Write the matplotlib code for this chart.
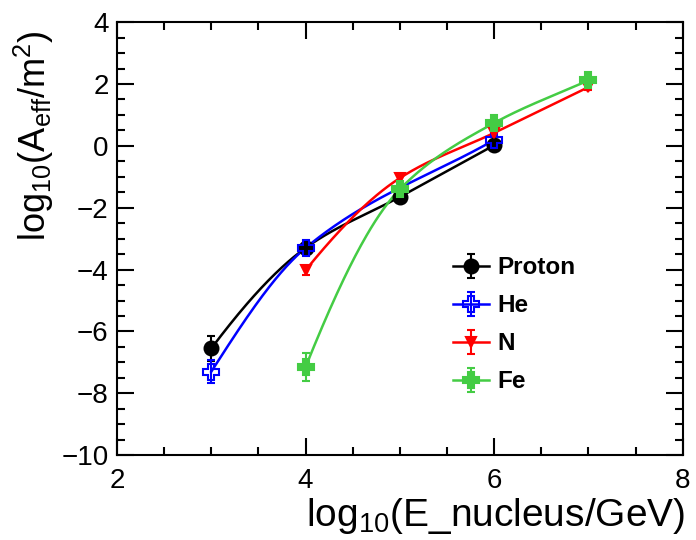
import numpy as np
import matplotlib.pyplot as plt
from matplotlib.ticker import MultipleLocator

plt.rcParams['font.family'] = ['Liberation Sans', 'DejaVu Sans']
plt.rcParams['mathtext.fontset'] = 'custom'
plt.rcParams['mathtext.rm'] = 'Liberation Sans'
plt.rcParams['mathtext.it'] = 'Liberation Sans'

# log10(E/GeV) and log10(Aeff/m^2)
proton_x = [3, 4, 5, 6]
proton_y = [-6.55, -3.3, -1.65, 0.02]
proton_err = [0.42, 0.15, 0.12, 0.1]

he_x = [3, 4, 6]
he_y = [-7.3, -3.3, 0.19]
he_err = [0.38, 0.15, 0.1]

n_x = [4, 5, 6, 7]
n_y = [-4.02, -1.04, 0.42, 1.9]
n_err = [0.15, 0.12, 0.1, 0.1]

fe_x = [4, 5, 6, 7]
fe_y = [-7.15, -1.4, 0.74, 2.12]
fe_err = [0.45, 0.15, 0.12, 0.12]


def smooth(x, y, n=200):
    # monotone-ish cubic hermite, only for drawing the smooth curve
    x = np.asarray(x, float)
    y = np.asarray(y, float)
    h = np.diff(x)
    d = np.diff(y) / h
    m = np.zeros(len(x))
    m[0], m[-1] = d[0], d[-1]
    if len(x) > 2:
        m[0] = ((2 * h[0] + h[1]) * d[0] - h[0] * d[1]) / (h[0] + h[1])
    for i in range(1, len(x) - 1):
        if d[i - 1] * d[i] > 0:
            w1 = 2 * h[i] + h[i - 1]
            w2 = h[i] + 2 * h[i - 1]
            m[i] = (w1 + w2) / (w1 / d[i - 1] + w2 / d[i])
    xs = np.linspace(x[0], x[-1], n)
    ys = np.empty_like(xs)
    for j, t in enumerate(xs):
        i = min(np.searchsorted(x, t, side='right') - 1, len(x) - 2)
        s = (t - x[i]) / h[i]
        h00 = 2 * s**3 - 3 * s**2 + 1
        h10 = s**3 - 2 * s**2 + s
        h01 = -2 * s**3 + 3 * s**2
        h11 = s**3 - s**2
        ys[j] = h00 * y[i] + h10 * h[i] * m[i] + h01 * y[i + 1] + h11 * h[i] * m[i + 1]
    return xs, ys


fig = plt.figure(figsize=(6.96, 5.4), dpi=100)
ax = fig.add_axes([0.168, 0.157, 0.813, 0.802])

series = [
    (proton_x, proton_y, proton_err, 'black', 'o', 'black', 10, 'Proton'),
    (he_x, he_y, he_err, 'blue', 'P', 'none', 11, 'He'),
    (n_x, n_y, n_err, 'red', 'v', 'red', 7, 'N'),
    (fe_x, fe_y, fe_err, '#44cc44', 'P', '#44cc44', 11, 'Fe'),
]

leg_handles = []
for x, y, err, col, mk, fc, ms, lab in series:
    xs, ys = smooth(x, y)
    ax.plot(xs, ys, color=col, lw=1.8)
    ax.errorbar(x, y, yerr=err, fmt=mk, color=col, mfc=fc, mec=col,
                ms=ms, mew=1.5, capsize=3, elinewidth=1.5)
    h = ax.errorbar([np.nan], [np.nan], yerr=[1], fmt=mk, ls='-', lw=1.8,
                    color=col, mfc=fc, mec=col, ms=ms, mew=1.5, capsize=3,
                    elinewidth=1.5, label=lab)
    leg_handles.append(h)

ax.legend(handles=leg_handles, loc='upper left',
          bbox_to_anchor=(0.555, 0.51), frameon=False,
          prop={'weight': 'bold', 'size': 17.5}, handlelength=1.5,
          labelspacing=0.62, handletextpad=0.35)

ax.set_xlim(2, 8)
ax.set_ylim(-10, 4)
ax.xaxis.set_major_locator(MultipleLocator(2))
ax.xaxis.set_minor_locator(MultipleLocator(0.5))
ax.yaxis.set_major_locator(MultipleLocator(2))
ax.yaxis.set_minor_locator(MultipleLocator(0.5))
ax.tick_params(which='both', direction='in', top=True, right=True,
               labelsize=20, width=1.5)
ax.tick_params(which='major', length=12, pad=6)
ax.tick_params(which='minor', length=6)
ax.tick_params(axis='x', which='major', pad=9)
for s in ax.spines.values():
    s.set_linewidth(1.5)

ax.set_xlabel(r'log$_{10}$(E_nucleus/GeV)', fontsize=28, ha='right', va='top')
ax.xaxis.set_label_coords(1.005, -0.095)
ax.set_ylabel(r'log$_{10}$(A$_{\rm eff}$/m$^{2}$)', fontsize=26, ha='right')
ax.yaxis.set_label_coords(-0.108, 0.982)

fig.savefig('out.png', dpi=100)
